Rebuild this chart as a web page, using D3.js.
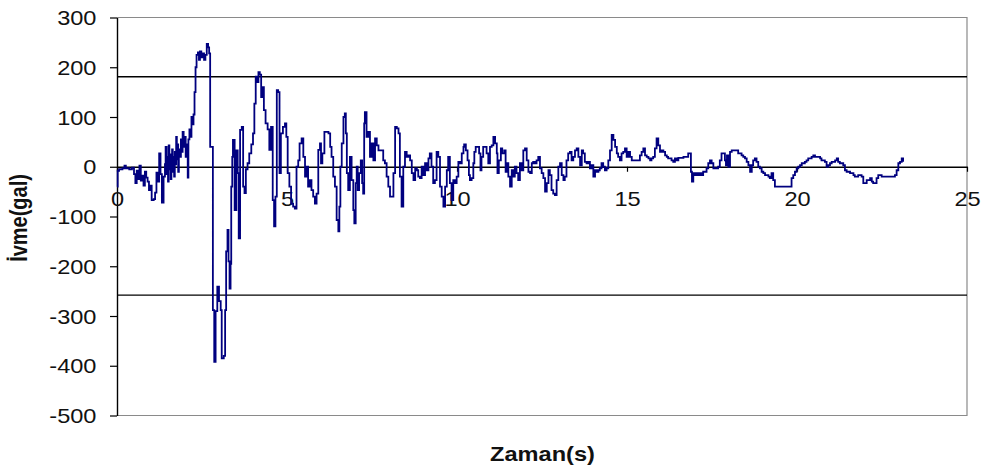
<!DOCTYPE html>
<html>
<head>
<meta charset="utf-8">
<script src="https://cdn.jsdelivr.net/npm/d3@7"></script>
<style>
  html, body { margin: 0; padding: 0; background: #fff; }
  svg { display: block; }
</style>
</head>
<body>
<svg id="chart" width="984" height="470"></svg>
<script>
// Ground acceleration record: time (s) and acceleration (gal)
const timeS = [
  0.00,0.02,0.06,0.16,0.22,0.26,0.36,0.44,0.50,0.54,0.58,0.62,0.66,0.70,0.74,0.78,0.82,0.86,0.90,0.94,0.98,
  1.02,1.08,1.12,1.16,1.20,1.24,1.28,1.32,1.37,1.41,1.43,1.46,1.48,1.50,1.52,1.54,1.56,1.58,1.60,1.62,1.64,
  1.66,1.68,1.70,1.72,1.74,1.76,1.78,1.80,1.82,1.85,1.88,1.90,1.93,1.96,1.99,2.02,2.05,2.08,2.10,2.13,2.16,
  2.19,2.22,2.25,2.28,2.31,2.34,2.38,2.41,2.44,2.48,2.52,2.56,2.60,2.64,2.68,2.71,2.74,
  2.82,2.86,2.90,2.95,3.00,3.05,3.08,3.14,3.18,3.21,3.25,3.28,3.31,3.34,3.36,3.39,3.41,3.46,3.51,3.55,3.58,
  3.62,3.67,3.71,3.75,3.79,3.84,3.89,3.95,4.00,4.04,4.08,4.12,4.16,4.20,4.24,4.28,4.32,4.37,4.43,4.48,4.53,
  4.58,4.62,4.66,4.70,4.74,4.78,4.82,4.88,4.94,4.98,5.02,5.07,5.12,5.18,5.23,
  5.28,5.33,5.37,5.43,5.48,5.53,5.58,5.62,5.67,5.72,5.77,5.82,5.87,5.92,5.97,6.00,6.04,6.10,6.16,6.22,6.27,
  6.31,6.36,6.41,6.46,6.51,6.54,6.57,6.61,6.66,6.70,6.73,6.76,6.80,6.85,6.90,6.95,6.98,7.02,7.05,7.08,7.12,
  7.17,7.21,7.24,7.27,7.29,7.34,7.39,7.44,7.49,7.54,7.59,7.64,7.69,7.83,7.88,7.93,7.98,8.03,8.13,8.18,8.23,
  8.28,8.32,8.37,8.42,8.47,8.52,8.57,8.62,8.67,8.72,8.77,8.82,8.86,8.91,8.96,9.01,9.06,9.11,9.16,9.20,9.25,
  9.30,9.35,9.40,9.45,9.50,9.55,9.60,9.65,9.70,9.74,9.79,9.84,9.89,9.94,9.99,
  10.04,10.09,10.14,10.19,10.21,10.26,10.31,10.35,10.38,10.43,10.48,10.51,10.55,10.65,10.69,10.72,10.77,10.87,
  10.92,10.97,11.02,11.07,11.12,11.17,11.19,11.23,11.29,11.33,11.39,11.43,11.46,11.51,11.56,11.61,11.66,11.70,
  11.75,11.80,11.85,11.90,11.95,12.00,12.05,12.10,12.15,12.20,12.24,12.29,12.34,12.39,12.44,12.49,12.54,12.59,
  12.64,12.69,12.73,12.78,12.83,12.88,12.93,12.98,13.03,13.08,13.13,13.17,13.22,13.27,13.32,13.37,13.42,13.47,
  13.52,13.57,13.62,13.67,13.71,13.76,13.81,13.86,13.91,13.96,14.01,14.06,14.11,14.16,14.20,14.25,14.30,14.35,
  14.40,14.45,14.50,14.55,14.60,14.65,14.70,14.74,14.79,14.84,14.89,14.94,14.99,
  15.04,15.09,15.14,15.38,15.43,15.48,15.53,15.58,15.63,15.68,15.72,15.77,15.82,15.87,15.92,15.97,16.02,16.07,
  16.12,16.17,16.21,16.31,16.36,16.41,16.46,16.51,16.66,16.80,16.88,16.91,16.95,17.00,17.05,17.10,17.15,17.19,
  17.24,17.34,17.39,17.44,17.49,17.54,17.68,17.73,17.78,17.88,17.91,17.94,17.98,18.03,18.08,18.27,18.37,18.42,
  18.47,18.52,18.57,18.62,18.67,18.71,18.76,18.81,18.86,18.91,18.96,19.01,19.06,19.16,19.20,19.25,19.30,19.35,
  19.84,19.89,19.94,19.99,20.04,20.09,20.14,20.23,20.28,20.33,20.43,20.48,20.53,20.68,20.72,20.82,20.87,20.92,
  20.97,21.02,21.12,21.17,21.21,21.26,21.36,21.41,21.46,21.56,21.66,21.70,21.80,21.90,21.95,22.05,22.15,22.20,
  22.24,22.34,22.39,22.49,22.88,22.93,22.98,23.03,23.08,23.12
];
const accelGal = [
  -40,-8,-5,-3,2,-3,-5,-2,-15,-33,-8,-25,2,-28,-18,-38,-10,-22,-30,-47,-38,
  -67,-65,-52,-12,-30,27,-15,-72,-20,5,40,-15,20,-30,43,-5,25,-25,10,35,-10,
  20,-20,30,5,60,15,45,-10,35,20,55,30,70,40,60,20,45,-22,55,75,60,
  100,85,105,150,200,225,230,215,232,220,228,215,225,247,240,228,40,
  -288,-392,-290,-241,-270,-288,-385,-380,-288,-170,-127,-190,-245,-195,-40,20,54,-87,33,-13,-144,
  74,80,-40,-53,-5,7,27,45,67,127,181,170,190,185,140,160,114,87,75,34,80,
  -67,-120,-60,154,150,-13,67,80,87,60,-13,-40,-74,-80,-84,
  0,13,47,57,20,-20,0,-40,-27,-47,-60,-74,-54,34,47,7,27,70,70,67,40,
  20,-20,-40,-107,-130,-80,0,47,100,107,67,-13,-47,20,-27,-87,-114,-33,0,-47,-13,
  13,-33,-54,87,110,60,70,20,47,13,57,43,33,13,7,-20,-40,-60,-13,80,77,
  67,-20,-80,0,30,20,23,13,-13,-27,-3,-7,-20,-23,0,-17,7,-7,17,27,0,
  -33,-27,30,20,-40,-60,-80,-40,-7,20,-33,-67,-27,-33,-20,
  10,7,27,40,45,33,13,-17,-27,-23,7,30,40,27,-7,20,40,27,
  7,40,43,60,47,27,-13,13,37,27,33,-10,7,-20,-40,-7,-20,0,
  -13,-27,7,-7,33,37,13,-10,-13,7,10,7,13,20,-3,-13,-23,-50,
  -33,-7,-17,-47,-54,-57,-27,0,7,-17,-27,-20,13,27,30,13,20,33,
  37,20,3,33,27,10,7,10,-3,3,-20,-7,-10,-7,-3,7,0,-7,
  -3,13,33,64,54,40,27,20,13,27,30,37,20,
  30,20,13,23,30,37,23,20,17,13,17,20,37,57,43,30,33,30,
  23,20,17,13,10,17,13,18,20,27,-10,-30,-13,-17,-13,-17,-13,-17,
  -10,-3,7,13,7,-3,0,13,27,13,3,23,0,30,33,27,23,20,
  17,10,3,-10,3,13,17,10,0,-3,-10,-13,-17,-20,-23,-13,-27,-40,
  -23,-17,-10,-3,0,3,7,10,13,17,20,23,20,17,13,10,0,3,
  7,10,13,17,10,7,3,-7,-10,-13,-17,-20,-17,-20,-33,-27,-23,-30,
  -33,-23,-17,-20,-17,-7,7,10,17,10
];
const xTicks = [0, 5, 10, 15, 20, 25];
const yTicks = [300, 200, 100, 0, -100, -200, -300, -400, -500];
const limitLines = [181, -258];
const xTitle = "Zaman(s)";
const yTitle = "İvme(gal)";

const plotLeft = 117, plotRight = 967, plotTop = 17.5, plotBottom = 415.5;
const FONT = "'Liberation Sans', Arial, sans-serif";
const SX = 1.18; // horizontal stretch of the lettering
const plainNumber = d => String(d); // keeps an ASCII hyphen for negatives

const x = d3.scaleLinear().domain([0, 25]).range([plotLeft, plotRight]);
const y = d3.scaleLinear().domain([-500, 300]).range([plotBottom, plotTop]);

const svg = d3.select("#chart");

// plot-area border (top, right, bottom)
svg.append("path")
  .attr("d", `M${plotLeft},${plotTop}H${plotRight}V${plotBottom}H${plotLeft}`)
  .attr("fill", "none")
  .attr("stroke", "#8a8a8a")
  .attr("stroke-width", 1.2);

// threshold lines
svg.selectAll("line.limit")
  .data(limitLines)
  .join("line")
  .attr("class", "limit")
  .attr("x1", plotLeft).attr("x2", plotRight)
  .attr("y1", d => y(d)).attr("y2", d => y(d))
  .attr("stroke", "#000")
  .attr("stroke-width", 1.4);

// vertical axis
const yAxis = svg.append("g")
  .attr("transform", `translate(${plotLeft},0)`)
  .call(d3.axisLeft(y).tickValues(yTicks).tickSize(7).tickSizeOuter(0).tickFormat(plainNumber));
yAxis.select(".domain").attr("stroke", "#000").attr("stroke-width", 1.4);
yAxis.selectAll(".tick line").attr("stroke", "#000").attr("stroke-width", 1.2);
yAxis.selectAll(".tick text")
  .attr("x", 0)
  .attr("dy", "0.35em")
  .attr("transform", `translate(-20.5,0) scale(${SX},1)`)
  .attr("fill", "#111")
  .style("font-family", FONT)
  .style("font-size", "20px");

// horizontal axis through zero
const xAxis = svg.append("g")
  .attr("transform", `translate(0,${y(0)})`)
  .call(d3.axisBottom(x).tickValues(xTicks).tickSize(5).tickSizeOuter(0).tickFormat(plainNumber));
xAxis.select(".domain").attr("stroke", "#000").attr("stroke-width", 1.4);
xAxis.selectAll(".tick line").attr("stroke", "#000").attr("stroke-width", 1.2);
xAxis.selectAll(".tick text")
  .attr("y", 0)
  .attr("dy", 0)
  .attr("transform", `translate(0,39.5) scale(${SX},1)`)
  .attr("fill", "#111")
  .style("font-family", FONT)
  .style("font-size", "20px");

// acceleration trace
const series = d3.zip(timeS, accelGal);
svg.append("path")
  .datum(series)
  .attr("fill", "none")
  .attr("stroke", "#00007f")
  .attr("stroke-width", 1.8)
  .attr("stroke-linejoin", "miter")
  .attr("d", d3.line().x(d => x(d[0])).y(d => y(d[1])).curve(d3.curveStepAfter));

// axis titles
svg.append("text")
  .attr("transform", `translate(${(plotLeft + plotRight) / 2 + 0.5},461) scale(${SX},1)`)
  .attr("text-anchor", "middle")
  .style("font-family", FONT)
  .style("font-size", "20px")
  .style("font-weight", "bold")
  .attr("fill", "#111")
  .text(xTitle);

svg.append("text")
  .attr("transform", `translate(27,218) scale(${SX},1) rotate(-90)`)
  .attr("text-anchor", "middle")
  .style("font-family", FONT)
  .style("font-size", "20px")
  .style("font-weight", "bold")
  .attr("fill", "#111")
  .text(yTitle);
</script>
</body>
</html>
